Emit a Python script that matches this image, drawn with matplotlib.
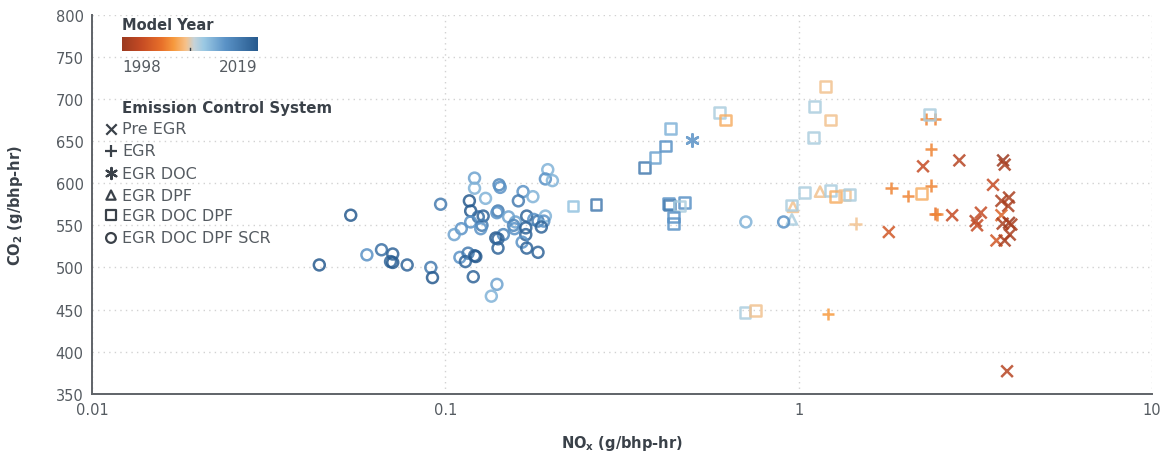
import numpy as np
import matplotlib
matplotlib.use('Agg')
import matplotlib.pyplot as plt
from matplotlib.colors import LinearSegmentedColormap, Normalize

plt.rcParams['font.family'] = ['DejaVu Sans']
plt.rcParams['mathtext.default'] = 'regular'

# -- data (NOx g/bhp-hr, CO2 g/bhp-hr, model year) ---------------------------
pre_egr_nox = [2.25, 2.85, 3.79, 3.83, 2.72, 1.80, 3.55, 3.75, 3.94, 3.92, 3.28,
               3.17, 3.20, 3.75, 3.78, 3.94, 4.00, 3.96, 3.63, 3.83, 3.89]
pre_egr_co2 = [620, 627, 627, 622, 562, 542, 598, 579, 583, 573, 565,
               555, 550, 562, 552, 553, 551, 539, 532, 532, 377]
pre_egr_year = [2001, 2000, 1998, 1999, 2001, 2002, 2001, 1999, 1999, 1999, 2001,
                2000, 2001, 2003, 1999, 1998, 1999, 1999, 2002, 1999, 2000]

egr_nox = [2.30, 2.43, 2.37, 1.83, 2.04, 2.37, 2.43, 2.46, 1.45, 1.21]
egr_co2 = [676, 676, 640, 594, 585, 597, 564, 563, 552, 445]
egr_year = [2005, 2005, 2005, 2005, 2005, 2005, 2004, 2005, 2008, 2006]

egr_doc_nox = [0.499]
egr_doc_co2 = [651]
egr_doc_year = [2014]

egr_dpf_nox = [1.15, 0.964, 0.957]
egr_dpf_co2 = [590, 572, 557]
egr_dpf_year = [2008, 2008, 2010]

egr_doc_dpf_nox = [0.230, 0.267, 0.366, 0.392, 0.420, 0.433, 0.429, 0.431, 0.475, 0.460,
                   0.443, 0.443, 0.598, 0.620, 0.705, 0.755, 1.19, 1.11, 1.23, 1.10,
                   1.04, 1.23, 1.27, 1.35, 1.39, 0.957, 2.35, 2.23]
egr_doc_dpf_co2 = [573, 575, 619, 630, 644, 665, 576, 574, 577, 573,
                   560, 552, 684, 675, 447, 449, 715, 691, 675, 654,
                   589, 591, 584, 586, 587, 574, 681, 588]
egr_doc_dpf_year = [2011, 2016, 2016, 2013, 2014, 2012, 2014, 2016, 2014, 2010,
                    2014, 2014, 2010, 2007, 2010, 2008, 2008, 2010, 2008, 2010,
                    2010, 2010, 2007, 2008, 2010, 2010, 2010, 2007]

scr_nox = [0.044, 0.054, 0.060, 0.066, 0.071, 0.070, 0.071, 0.078, 0.091, 0.092,
           0.097, 0.121, 0.121, 0.117, 0.118, 0.124, 0.128, 0.118, 0.127, 0.126,
           0.111, 0.106, 0.130, 0.142, 0.143, 0.141, 0.140, 0.151, 0.158, 0.156,
           0.157, 0.146, 0.139, 0.141, 0.141, 0.166, 0.177, 0.161, 0.170, 0.178,
           0.183, 0.192, 0.190, 0.187, 0.169, 0.169, 0.165, 0.170, 0.183, 0.195,
           0.192, 0.201, 0.110, 0.116, 0.114, 0.121, 0.122, 0.120, 0.140, 0.135,
           0.709, 0.907]
scr_co2 = [503, 562, 515, 521, 516, 507, 506, 503, 500, 488,
           575, 606, 594, 579, 567, 560, 561, 554, 550, 546,
           546, 539, 582, 598, 595, 567, 565, 560, 554, 550,
           546, 539, 535, 534, 523, 590, 584, 579, 561, 557,
           555, 561, 555, 548, 547, 539, 530, 523, 518, 616,
           605, 603, 512, 517, 507, 514, 513, 489, 480, 466,
           554, 554]
scr_year = [2019, 2019, 2014, 2017, 2018, 2018, 2019, 2018, 2016, 2019,
            2016, 2013, 2012, 2019, 2019, 2017, 2018, 2014, 2016, 2014,
            2014, 2013, 2012, 2015, 2014, 2016, 2014, 2013, 2013, 2015,
            2014, 2015, 2019, 2018, 2018, 2014, 2012, 2016, 2018, 2014,
            2016, 2012, 2014, 2018, 2018, 2018, 2014, 2018, 2018, 2012,
            2014, 2012, 2014, 2016, 2018, 2018, 2019, 2018, 2013, 2012,
            2012, 2014]

legend_labels = ['Pre EGR', 'EGR', 'EGR DOC', 'EGR DPF', 'EGR DOC DPF', 'EGR DOC DPF SCR']
year_min, year_max = 1998, 2019

# -- colours ------------------------------------------------------------------
cmap = LinearSegmentedColormap.from_list('model_year', [
    (0.00, '#9b3a20'), (0.14, '#c54b24'), (0.29, '#e8702a'), (0.38, '#f79a3e'),
    (0.47, '#f6c18a'), (0.53, '#c6d3d8'), (0.60, '#9ccae4'), (0.76, '#5b93c7'),
    (1.00, '#275a8e')])
norm = Normalize(year_min, year_max)
text_col = '#3a4149'
tick_col = '#555b61'

fig = plt.figure(figsize=(11.61, 4.56), dpi=100)
ax = fig.add_axes([0.0792, 0.1338, 0.9130, 0.8322])

series = [
    (pre_egr_nox, pre_egr_co2, pre_egr_year, 'x', 70),
    (egr_nox, egr_co2, egr_year, '+', 80),
    (egr_doc_nox, egr_doc_co2, egr_doc_year, (6, 2, 0), 80),
    (egr_dpf_nox, egr_dpf_co2, egr_dpf_year, '^', 55),
    (egr_doc_dpf_nox, egr_doc_dpf_co2, egr_doc_dpf_year, 's', 60),
    (scr_nox, scr_co2, scr_year, 'o', 62),
]
for nox, co2, yr, mk, size in series:
    cols = cmap(norm(np.array(yr)))
    if mk in ('x', '+') or isinstance(mk, tuple):
        ax.scatter(nox, co2, marker=mk, s=size, c=cols, linewidths=1.8,
                   alpha=0.85, zorder=3)
    else:
        ax.scatter(nox, co2, marker=mk, s=size, facecolors='none',
                   edgecolors=cols, linewidths=1.8, alpha=0.85, zorder=3)

ax.set_xscale('log')
ax.set_xlim(0.01, 10)
ax.set_ylim(350, 800)
ax.set_yticks(np.arange(350, 801, 50))
ax.set_xticks([0.01, 0.1, 1, 10])
ax.set_xticklabels(['0.01', '0.1', '1', '10'])
ax.minorticks_off()
ax.grid(True, color='#d2d2d2', linestyle=(0, (1, 3)), linewidth=1.0)
ax.set_axisbelow(True)
for s in ('top', 'right'):
    ax.spines[s].set_visible(False)
for s in ('left', 'bottom'):
    ax.spines[s].set_color('#5f6368')
    ax.spines[s].set_linewidth(1.4)
ax.tick_params(length=0, labelsize=10.5, colors=tick_col, pad=6)

ax.set_xlabel('NO$_x$ (g/bhp-hr)', fontsize=10.5, fontweight='bold', color=text_col, labelpad=11)
ax.set_ylabel('CO$_2$ (g/bhp-hr)', fontsize=10.5, fontweight='bold', color=text_col, labelpad=22)

# -- model year colour bar ----------------------------------------------------
fig.text(0.1051, 0.943, 'Model Year', fontsize=10.5, fontweight='bold', color=text_col, va='center')
cax = fig.add_axes([0.1051, 0.886, 0.1171, 0.0307])
cax.imshow(np.linspace(0, 1, 256)[None, :], aspect='auto', cmap=cmap, extent=[0, 1, 0, 1])
cax.plot([0.5, 0.5], [0, 0.2], color=text_col, lw=1)
cax.set_axis_off()
fig.text(0.1051, 0.853, str(year_min), fontsize=11, color=tick_col, va='center')
fig.text(0.2222, 0.853, str(year_max), fontsize=11, color=tick_col, va='center', ha='right')

# -- emission control system legend ------------------------------------------
fig.text(0.1051, 0.763, 'Emission Control System', fontsize=10.8, fontweight='bold',
         color=text_col, va='center')
leg_y = [0.715, 0.667, 0.618, 0.570, 0.526, 0.476]
for (nox, co2, yr, mk, size), lab, yy in zip(series, legend_labels, leg_y):
    if mk in ('x', '+') or isinstance(mk, tuple):
        ax.scatter([0.0956], [yy], marker=mk, s=size * 0.8, c=text_col, linewidths=1.6,
                   transform=fig.transFigure, clip_on=False)
    else:
        ax.scatter([0.0956], [yy], marker=mk, s=size * 0.8, facecolors='none',
                   edgecolors=text_col, linewidths=1.6, transform=fig.transFigure, clip_on=False)
    fig.text(0.1051, yy, lab, fontsize=11.5, color=tick_col, va='center')

fig.savefig('out.png', dpi=100)
